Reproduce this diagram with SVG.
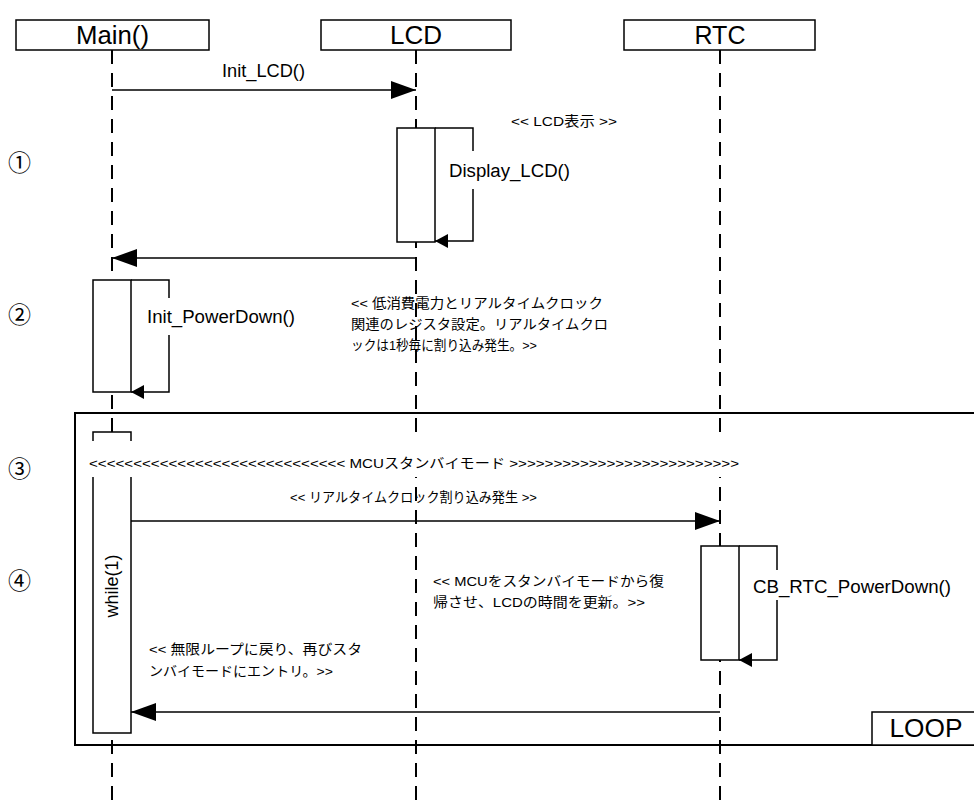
<svg xmlns="http://www.w3.org/2000/svg" width="974" height="801" viewBox="0 0 974 801">
<defs>
<style>
.box{fill:#fff;stroke:#000;stroke-width:1.5}
.life{stroke:#000;stroke-width:2;stroke-dasharray:14 9;fill:none}
.msg{stroke:#000;stroke-width:1.5;fill:none}
.hdr{font-family:"Liberation Sans",Arial,sans-serif;font-size:25px;text-anchor:middle}
.lbl{font-family:"Liberation Sans",Arial,sans-serif;font-size:18px}
.jp{font-family:"Liberation Sans","Noto Sans CJK JP",sans-serif;font-size:13.5px}
.num{font-family:"Noto Sans CJK JP",sans-serif;font-size:23px}
.bg{fill:#fff;stroke:none}
</style>
<marker id="big" markerUnits="userSpaceOnUse" markerWidth="26" markerHeight="20" refX="25" refY="9" orient="auto">
<path d="M0,0 L25,9 L0,18 Z" fill="#000"/>
</marker>
<marker id="small" markerUnits="userSpaceOnUse" markerWidth="14" markerHeight="16" refX="13" refY="7" orient="auto">
<path d="M0,0 L13,7 L0,14 Z" fill="#000"/>
</marker>
</defs>
<rect width="974" height="801" fill="#fff"/>

<g id="loop-frame">
<rect x="75" y="413" width="910" height="332" fill="none" stroke="#000" stroke-width="2"/>
</g>

<g id="lifelines">
<line class="life" x1="112" y1="50" x2="112" y2="801"/>
<line class="life" x1="416" y1="50" x2="416" y2="801"/>
<line class="life" x1="720" y1="50" x2="720" y2="801"/>
</g>

<g id="main">
<rect class="box" x="16" y="20" width="193" height="30"/>
<text class="hdr" x="112.5" y="44" textLength="73" lengthAdjust="spacingAndGlyphs">Main()</text>
</g>
<g id="lcd">
<rect class="box" x="321" y="20" width="190" height="30"/>
<text class="hdr" x="416" y="44" textLength="52" lengthAdjust="spacingAndGlyphs">LCD</text>
</g>
<g id="rtc">
<rect class="box" x="624" y="20" width="191" height="30"/>
<text class="hdr" x="720" y="44" textLength="51" lengthAdjust="spacingAndGlyphs">RTC</text>
</g>

<g id="step-numbers">
<text class="num" x="8" y="171">①</text>
<text class="num" x="8" y="323">②</text>
<text class="num" x="8" y="477">③</text>
<text class="num" x="8" y="589">④</text>
</g>

<g id="act-lcd">
<rect class="box" x="397" y="128" width="38" height="114"/>
</g>
<g id="act-main1">
<rect class="box" x="93" y="280" width="38" height="112"/>
</g>
<g id="act-while">
<rect class="box" x="93" y="432" width="38" height="301"/>
<text class="lbl" transform="translate(118,586) rotate(-90)" text-anchor="middle" font-size="17">while(1)</text>
</g>
<g id="act-rtc">
<rect class="box" x="701" y="546" width="38" height="114"/>
</g>

<g id="connectors">
<line class="msg" x1="112" y1="90" x2="416" y2="90" marker-end="url(#big)"/>
<path class="msg" d="M435,128 H473 V241 H435" marker-end="url(#small)"/>
<line class="msg" x1="416" y1="258" x2="112" y2="258" marker-end="url(#big)"/>
<path class="msg" d="M131,280 H169 V392 H131" marker-end="url(#small)"/>
<line class="msg" x1="131" y1="521" x2="720" y2="521" marker-end="url(#big)"/>
<path class="msg" d="M739,546 H777 V660 H739" marker-end="url(#small)"/>
<line class="msg" x1="720" y1="712" x2="131" y2="712" marker-end="url(#big)"/>
</g>

<g id="labels">
<text class="lbl" x="222" y="77" font-size="16" textLength="83" lengthAdjust="spacingAndGlyphs">Init_LCD()</text>
<text class="jp" x="511" y="126" textLength="106" lengthAdjust="spacingAndGlyphs">&lt;&lt; LCD表示 &gt;&gt;</text>
<rect class="bg" x="445" y="151" width="128" height="38"/>
<text class="lbl" x="449" y="177" textLength="121" lengthAdjust="spacingAndGlyphs">Display_LCD()</text>
<rect class="bg" x="143" y="298" width="156" height="37"/>
<text class="lbl" x="147" y="323" textLength="148" lengthAdjust="spacingAndGlyphs">Init_PowerDown()</text>
<text class="jp" x="351" y="308" textLength="252" lengthAdjust="spacingAndGlyphs">&lt;&lt; 低消費電力とリアルタイムクロック</text>
<text class="jp" x="351" y="329" textLength="257" lengthAdjust="spacingAndGlyphs">関連のレジスタ設定。リアルタイムクロ</text>
<text class="jp" x="351" y="350" textLength="186" lengthAdjust="spacingAndGlyphs">ックは1秒毎に割り込み発生。&gt;&gt;</text>
<rect class="bg" x="86" y="441" width="658" height="36"/>
<text class="jp" x="89" y="468" textLength="650" lengthAdjust="spacingAndGlyphs">&lt;&lt;&lt;&lt;&lt;&lt;&lt;&lt;&lt;&lt;&lt;&lt;&lt;&lt;&lt;&lt;&lt;&lt;&lt;&lt;&lt;&lt;&lt;&lt;&lt;&lt;&lt;&lt;&lt; MCUスタンバイモード &gt;&gt;&gt;&gt;&gt;&gt;&gt;&gt;&gt;&gt;&gt;&gt;&gt;&gt;&gt;&gt;&gt;&gt;&gt;&gt;&gt;&gt;&gt;&gt;&gt;&gt;</text>
<text class="jp" x="290" y="502" textLength="247" lengthAdjust="spacingAndGlyphs">&lt;&lt; リアルタイムクロック割り込み発生 &gt;&gt;</text>
<rect class="bg" x="749" y="570" width="206" height="30"/>
<text class="lbl" x="753" y="593" textLength="198" lengthAdjust="spacingAndGlyphs">CB_RTC_PowerDown()</text>
<text class="jp" x="433" y="586" textLength="231" lengthAdjust="spacingAndGlyphs">&lt;&lt; MCUをスタンバイモードから復</text>
<text class="jp" x="433" y="607" textLength="212" lengthAdjust="spacingAndGlyphs">帰させ、LCDの時間を更新。&gt;&gt;</text>
<text class="jp" x="149" y="654" textLength="213" lengthAdjust="spacingAndGlyphs">&lt;&lt; 無限ループに戻り、再びスタ</text>
<text class="jp" x="149" y="676" textLength="184" lengthAdjust="spacingAndGlyphs">ンバイモードにエントリ。&gt;&gt;</text>
</g>

<g id="loop-label">
<rect class="box" x="872" y="712" width="110" height="33" stroke-width="1.5"/>
<text class="hdr" x="926" y="737" text-anchor="middle" textLength="73" lengthAdjust="spacingAndGlyphs">LOOP</text>
</g>
</svg>
